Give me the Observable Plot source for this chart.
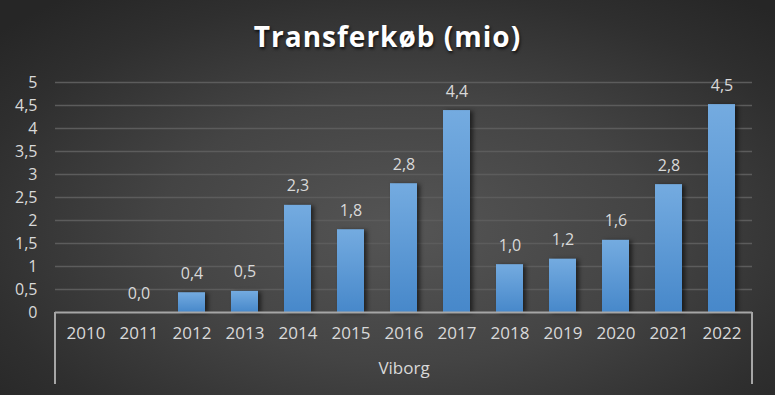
<!DOCTYPE html>
<html>
<head>
<meta charset="utf-8">
<script src="https://cdn.jsdelivr.net/npm/d3@7"></script>
<script src="https://cdn.jsdelivr.net/npm/@observablehq/plot@0.6"></script>
<style>
  html, body { margin: 0; padding: 0; background: #2a2a2a; }
  #chart {
    width: 775px; height: 395px; position: relative; overflow: hidden;
    background: radial-gradient(ellipse 70% 75% at 52% 58%, #555555 0%, #444444 45%, #2f2f2f 80%, #262626 100%);
    font-family: "Open Sans", sans-serif;
  }
  #title {
    height: 62px; line-height: 72px; text-align: center; color: #ffffff;
    font-size: 28px; font-weight: bold; letter-spacing: 1px;
    text-shadow: 1px 2px 3px rgba(0,0,0,0.7);
  }
  #chart svg { display: block; background: transparent; }
  g[fill="url(#barGrad)"] { filter: drop-shadow(3px 1px 2px rgba(0,0,0,0.55)); }
</style>
</head>
<body>
<div id="chart"><div id="title">Transferkøb (mio)</div></div>
<script>
const years = ["2010","2011","2012","2013","2014","2015","2016","2017","2018","2019","2020","2021","2022"];
const values = [null, 0, 0.43, 0.46, 2.33, 1.8, 2.8, 4.39, 1.04, 1.16, 1.57, 2.78, 4.52];
const yTicks = [0, 0.5, 1, 1.5, 2, 2.5, 3, 3.5, 4, 4.5, 5];
const groupLabel = "Viborg";

const data = years.map((year, i) => ({year, value: values[i]}));
const fmt = v => v.toFixed(1).replace(".", ",");
const tickFmt = v => String(v).replace(".", ",");

const defsMark = () => {
  const g = d3.create("svg:g");
  const defs = g.append("defs");
  const lg = defs.append("linearGradient").attr("id", "barGrad")
    .attr("x1", 0).attr("y1", 0).attr("x2", 0).attr("y2", 1);
  lg.append("stop").attr("offset", "0%").attr("stop-color", "#74abe0");
  lg.append("stop").attr("offset", "100%").attr("stop-color", "#4788ca");
  return g.node();
};

const bracketMark = (index, scales, values, dimensions) => {
  const {width, height, marginLeft, marginRight, marginBottom} = dimensions;
  const y0 = height - marginBottom;
  const g = d3.create("svg:g").attr("stroke", "#a6a6a6").attr("stroke-width", 2).attr("fill", "none");
  g.append("line").attr("x1", marginLeft).attr("x2", marginLeft).attr("y1", y0).attr("y2", y0 + 72);
  g.append("line").attr("x1", width - marginRight).attr("x2", width - marginRight).attr("y1", y0).attr("y2", y0 + 72);
  return g.node();
};

const plot = Plot.plot({
  width: 775,
  height: 333,
  marginLeft: 55,
  marginRight: 23,
  marginTop: 20,
  marginBottom: 83,
  style: {background: "transparent", fontFamily: "'Open Sans', sans-serif", color: "#d9d9d9", overflow: "visible"},
  x: {domain: years, paddingInner: 0.5, paddingOuter: 0.25, label: null},
  y: {domain: [0, 5], label: null},
  marks: [
    defsMark,
    Plot.gridY(yTicks.filter(t => t > 0), {stroke: "#5c5c5c", strokeOpacity: 1, strokeWidth: 1.5}),
    Plot.axisY(yTicks, {tickSize: 0, tickPadding: 18, tickFormat: tickFmt, fontSize: 16, fill: "#d9d9d9", label: null}),
    Plot.axisX({tickSize: 0, tickPadding: 14, fontSize: 17, fill: "#d9d9d9", label: null}),
    Plot.barY(data.filter(d => d.value != null), {x: "year", y: "value", fill: "url(#barGrad)"}),
    Plot.ruleY([0], {stroke: "#a6a6a6", strokeWidth: 2}),
    bracketMark,
    Plot.text(data.filter(d => d.value != null), {x: "year", y: "value", text: d => fmt(d.value), dy: -19, fontSize: 16, fill: "#d9d9d9"}),
    Plot.text([groupLabel], {frameAnchor: "bottom", dy: 61, fontSize: 17, fill: "#d9d9d9"})
  ]
});
document.getElementById("chart").appendChild(plot);
</script>
</body>
</html>
